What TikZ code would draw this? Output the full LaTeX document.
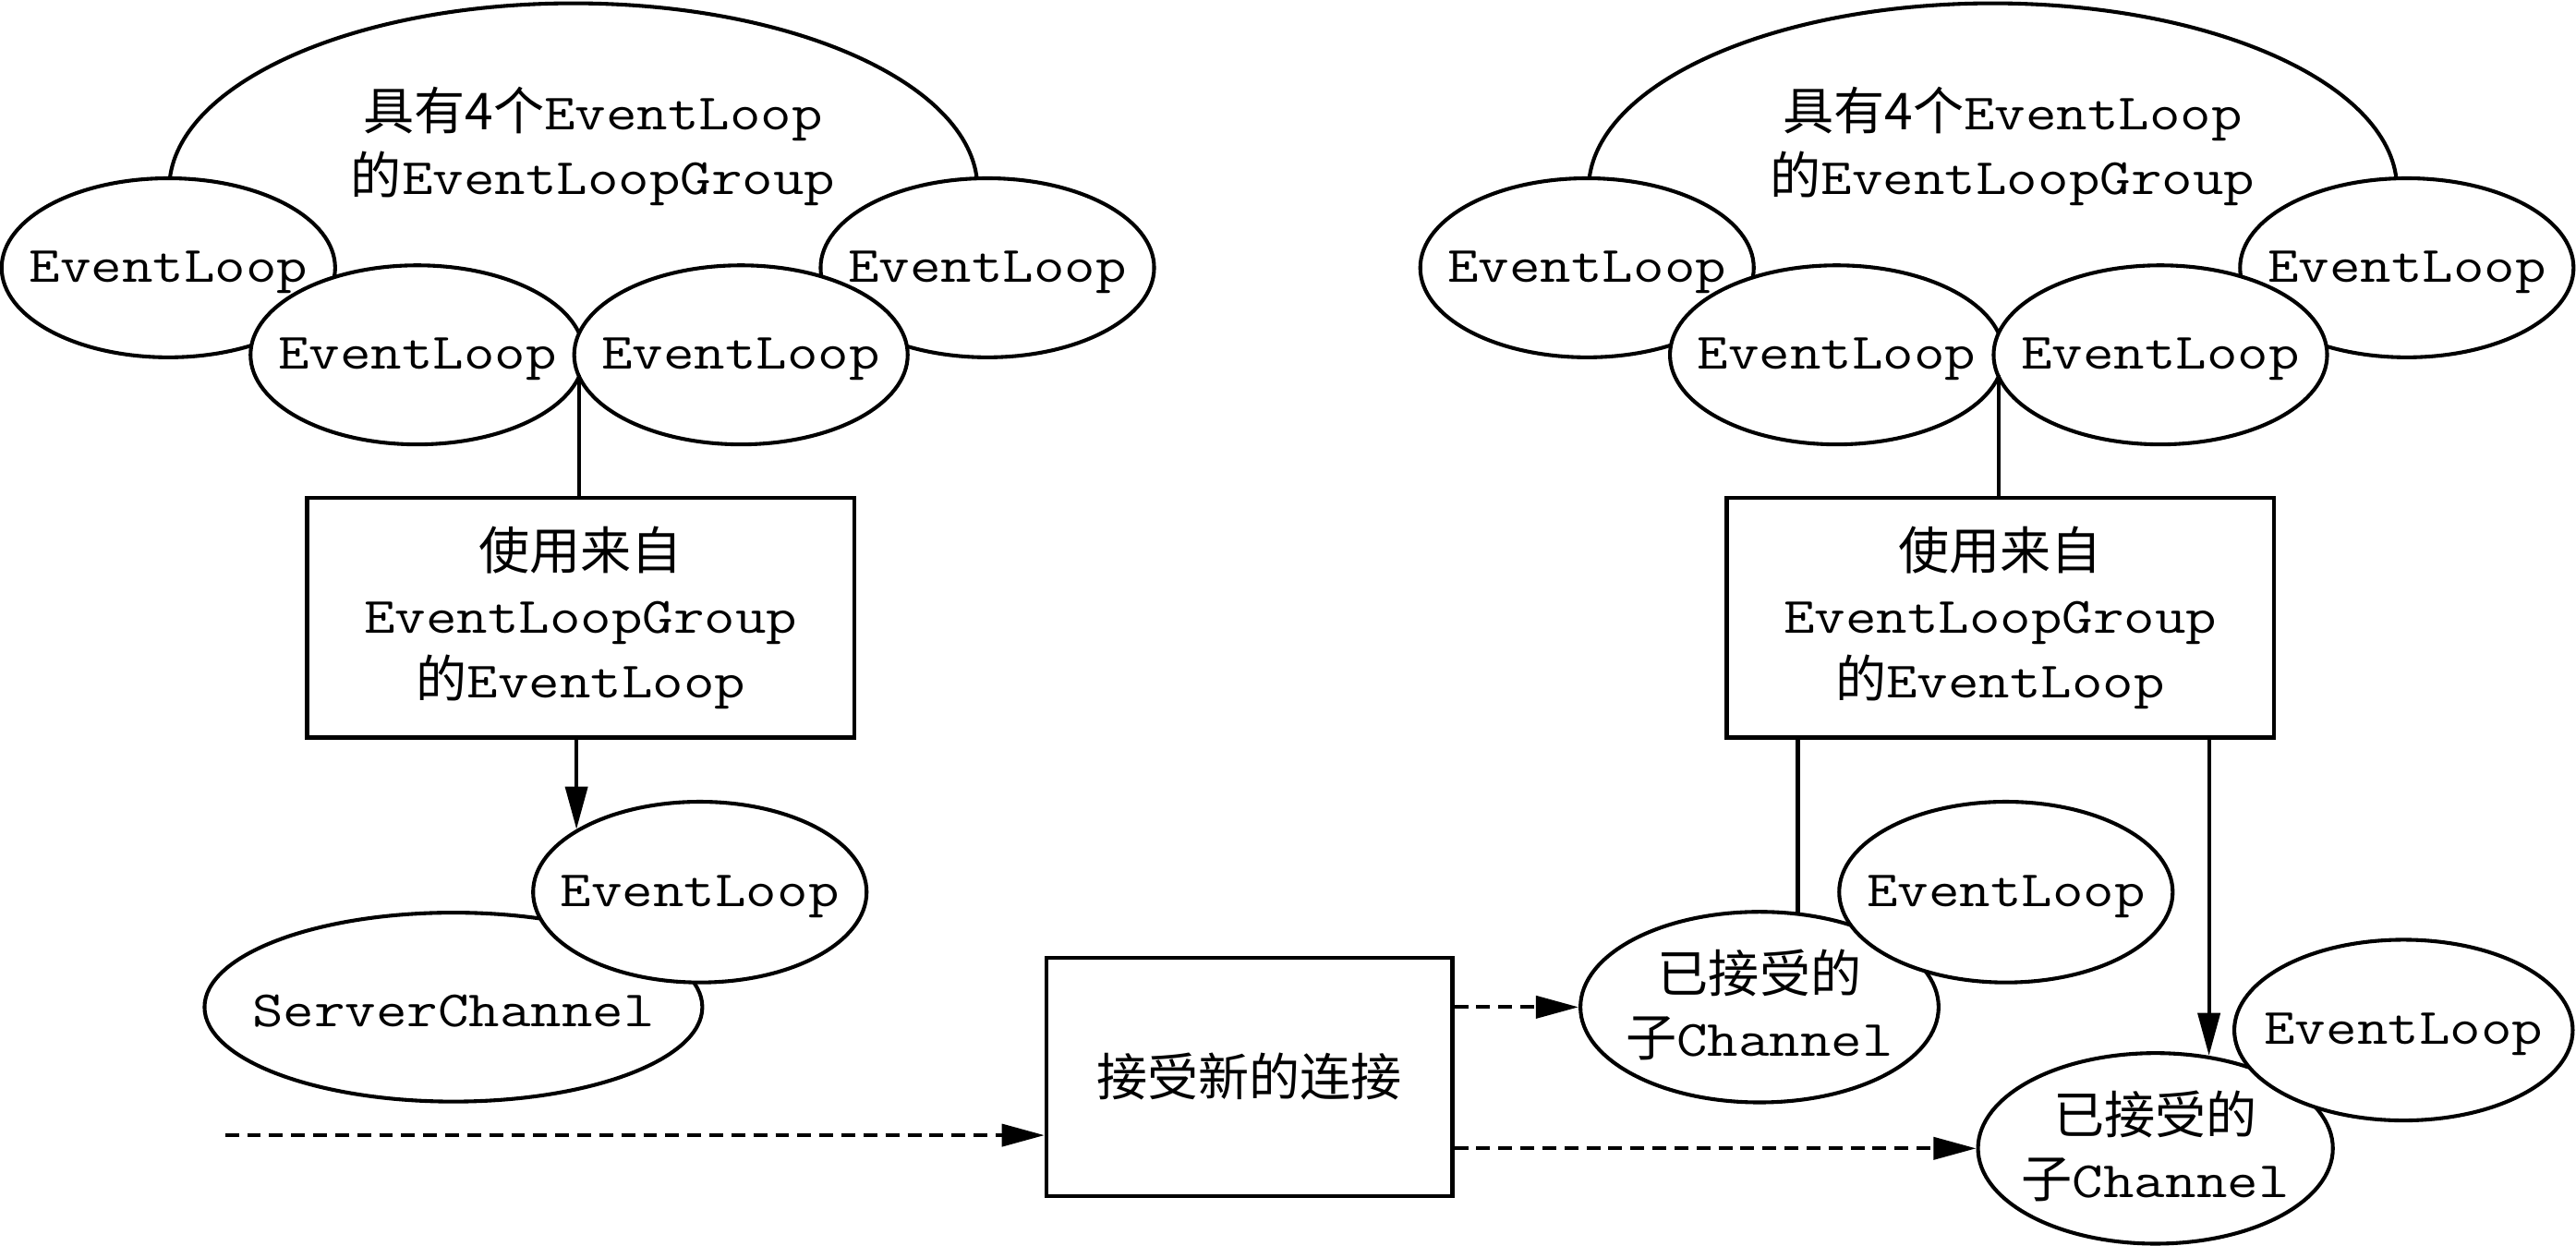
\documentclass[tikz,border=0pt]{standalone}
\usepackage{fontspec}
\setmainfont[FakeStretch=1.18]{Latin Modern Mono}
\newfontfamily\cjk[Scale=1.0]{Noto Sans CJK SC}
\usetikzlibrary{shapes.geometric,arrows.meta}
\tikzset{
  ell/.style={draw, ellipse, fill=white, line width=2.3pt, inner sep=0pt,
    minimum width=203pt, minimum height=109pt},
  grp/.style={ell, minimum width=492pt, minimum height=226pt},
  chn/.style={ell, minimum width=218pt, minimum height=116pt},
  boxnode/.style={draw, rectangle, fill=white, line width=2.5pt, inner sep=0pt,
    minimum width=333pt, minimum height=146pt, align=center},
  txt/.style={inner sep=0pt, align=center},
  lbl/.style={txt, yshift=-2.5pt},
  conn/.style={line width=2.3pt},
  arr/.style={conn, -{Triangle[length=26pt,width=13.5pt]}},
  darr/.style={arr, dash pattern=on 8.4pt off 5pt}
}
\begin{document}
\begin{tikzpicture}[x=1pt,y=-1pt,font=\fontsize{31}{39}\selectfont]
\useasboundingbox (0,0) rectangle (1568,758);

% ---------------- left cluster ----------------
\node[grp] (g1) at (349,115) {};
\node[txt] (g1t) at (361,89) {{\cjk 具有4个}EventLoop\\{\cjk 的}EventLoopGroup};
\node[ell] (e1a) at (102.5,163) {};
\node[lbl] (e1at) at (e1a.center) {EventLoop};
\node[ell] (e1d) at (601,163) {};
\node[lbl] (e1dt) at (e1d.center) {EventLoop};
\node[ell] (e1b) at (254,216) {};
\node[lbl] (e1bt) at (e1b.center) {EventLoop};
\node[ell] (e1c) at (451,216) {};
\node[lbl] (e1ct) at (e1c.center) {EventLoop};
\coordinate (j1) at (352.5,228);

\node[boxnode] (b1) at (353.5,376) {{\cjk 使用来自}\\EventLoopGroup\\{\cjk 的}EventLoop};

\node[ell, minimum width=303pt, minimum height=115pt] (sc) at (276,613) {};
\node[lbl] (sct) at (sc.center) {ServerChannel};
\node[ell, minimum height=110pt] (sel) at (426,543) {};
\node[lbl] (selt) at (sel.center) {EventLoop};

\draw[conn] (j1) -- (j1 |- b1.north);
\draw[arr] (b1.south -| sel.153) -- (sel.153);

% ---------------- middle ----------------
\coordinate (s0) at (137,691);
\node[boxnode, minimum width=247pt, minimum height=145pt] (b2) at (760.5,655.5) {{\cjk 接受新的连接}};
\draw[darr] (s0) -- (b2.west |- s0);

% ---------------- right cluster ----------------
\node[grp] (g2) at (1213,115) {};
\node[txt] (g2t) at (1225,89) {{\cjk 具有4个}EventLoop\\{\cjk 的}EventLoopGroup};
\node[ell] (e2a) at (966,163) {};
\node[lbl] (e2at) at (e2a.center) {EventLoop};
\node[ell] (e2d) at (1465,163) {};
\node[lbl] (e2dt) at (e2d.center) {EventLoop};
\node[ell] (e2b) at (1118,216) {};
\node[lbl] (e2bt) at (e2b.center) {EventLoop};
\node[ell] (e2c) at (1315,216) {};
\node[lbl] (e2ct) at (e2c.center) {EventLoop};
\coordinate (j2) at (1216.5,228);

\node[boxnode] (b3) at (1217.5,376) {{\cjk 使用来自}\\EventLoopGroup\\{\cjk 的}EventLoop};

\node[chn] (ch1) at (1071,613) {};
\node[txt] (ch1t) at (1071,611.5) {{\cjk 已接受的}\\{\cjk 子}Channel};
\node[ell, minimum height=110pt] (ch1el) at (1221,543) {};
\node[lbl] (ch1elt) at (ch1el.center) {EventLoop};

\node[chn, minimum width=216pt] (ch2) at (1312,699) {};
\node[txt] (ch2t) at (1312,697.5) {{\cjk 已接受的}\\{\cjk 子}Channel};
\node[ell, minimum width=206pt, minimum height=110pt] (ch2el) at (1463,627) {};
\node[lbl] (ch2elt) at (ch2el.center) {EventLoop};

\draw[conn] (j2) -- (j2 |- b3.north);
\draw[conn] (b3.south -| ch1.68) -- (ch1.68);
\draw[arr] (b3.south -| ch2.60) -- (ch2.60);

\draw[darr] (b2.east |- ch1.west) -- (ch1.west);
\draw[darr] (b2.east |- ch2.west) -- (ch2.west);
\end{tikzpicture}
\end{document}
